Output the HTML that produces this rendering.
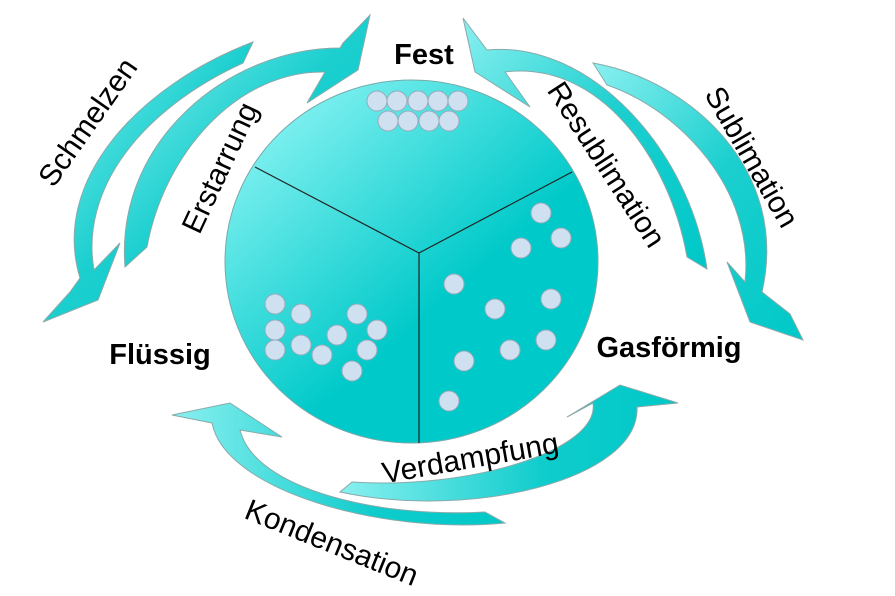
<!DOCTYPE html>
<html><head><meta charset="utf-8"><style>
html,body{margin:0;padding:0;background:#fff;}
svg{display:block;}
text{font-family:"Liberation Sans",sans-serif;}
</style></head><body>
<svg width="895" height="596" viewBox="0 0 895 596" xmlns="http://www.w3.org/2000/svg">
<defs>
<linearGradient id="cg" x1="0.15" y1="0.1" x2="0.6" y2="0.6">
<stop offset="0" stop-color="#7ff0f0"/><stop offset="1" stop-color="#00c9c9"/></linearGradient>
<linearGradient id="ag1" x1="0" y1="0" x2="1" y2="1">
<stop offset="0" stop-color="#8af0f0"/><stop offset="0.5" stop-color="#1ccfcf"/><stop offset="1" stop-color="#00c8c8"/></linearGradient>
<linearGradient id="ag2" x1="0" y1="0" x2="1" y2="0">
<stop offset="0" stop-color="#8af0f0"/><stop offset="0.6" stop-color="#10cccc"/><stop offset="1" stop-color="#00c8c8"/></linearGradient>
</defs>
<g stroke="#8aa" stroke-width="1" fill="url(#ag1)">
<path d="M253,42 C140,85 50,180 80,278 L70,292 L43,322 L98,300 L120,243 L94,270 C80,190 140,110 243,63 Z"/>
<path d="M125,267 C115,140 230,48 340,48 L343,43 L370,15 L358,70 L307,103 L325,72 C240,70 165,150 147,247 Z"/>
<path d="M463,18 L487,50 C590,40 690,150 707,269 L687,257 C670,160 600,60 505,72 L530,107 L475,72 Z"/>
<path d="M593,63 C690,80 790,170 762,292 L790,314 L803,340 L750,322 L727,262 L745,282 C755,190 680,110 607,85 Z"/>
<path fill="url(#ag2)" d="M212,423 L172,415 L230,403 L282,437 L240,430 C255,490 380,518 485,512 L505,523 C380,535 225,490 212,423 Z"/>
<path fill="url(#ag2)" d="M340,492 C470,520 640,480 637,407 L678,403 L620,385 L567,417 L593,403 C600,450 470,490 352,482 Z"/>
</g>
<ellipse cx="411.5" cy="261.5" rx="186.5" ry="181.5" fill="url(#cg)" stroke="#7aa" stroke-width="1"/>
<g stroke="#222" stroke-width="1.2">
<line x1="419" y1="253" x2="255" y2="167"/>
<line x1="419" y1="253" x2="572" y2="172"/>
<line x1="419" y1="253" x2="419" y2="443"/>
</g>
<g fill="#cfe1f0" stroke="#9ab" stroke-width="1">
<circle cx="377" cy="101" r="10"/><circle cx="397" cy="101" r="10"/><circle cx="418" cy="101" r="10"/><circle cx="438" cy="101" r="10"/><circle cx="458" cy="101" r="10"/>
<circle cx="388" cy="121" r="10"/><circle cx="408" cy="121" r="10"/><circle cx="429" cy="121" r="10"/><circle cx="449" cy="121" r="10"/>
<circle cx="275" cy="304" r="10"/><circle cx="301" cy="314" r="10"/><circle cx="275" cy="330" r="10"/><circle cx="275" cy="350" r="10"/><circle cx="301" cy="345" r="10"/><circle cx="322" cy="355" r="10"/><circle cx="337" cy="335" r="10"/><circle cx="357" cy="314" r="10"/><circle cx="377" cy="330" r="10"/><circle cx="367" cy="350" r="10"/><circle cx="352" cy="371" r="10"/>
<circle cx="541" cy="213" r="10"/><circle cx="561" cy="238" r="10"/><circle cx="521" cy="248" r="10"/><circle cx="454" cy="284" r="10"/><circle cx="495" cy="309" r="10"/><circle cx="551" cy="299" r="10"/><circle cx="546" cy="340" r="10"/><circle cx="510" cy="350" r="10"/><circle cx="464" cy="361" r="10"/><circle cx="449" cy="401" r="10"/>
</g>
<g font-weight="bold" font-size="29" fill="#000">
<text x="424" y="64" text-anchor="middle">Fest</text>
<text x="160" y="364" text-anchor="middle">Flüssig</text>
<text x="669" y="357" text-anchor="middle">Gasförmig</text>
</g>
<g font-size="30" fill="#000" text-anchor="middle">
<text transform="translate(96,128) rotate(-55)">Schmelzen</text>
<text transform="translate(229,172) rotate(-65)">Erstarrung</text>
<text transform="translate(598,170) rotate(57)">Resublimation</text>
<text transform="translate(743,162) rotate(60)">Sublimation</text>
<text transform="translate(472,468) rotate(-10)">Verdampfung</text>
<text transform="translate(328,552) rotate(22)">Kondensation</text>
</g>
</svg>
</body></html>
